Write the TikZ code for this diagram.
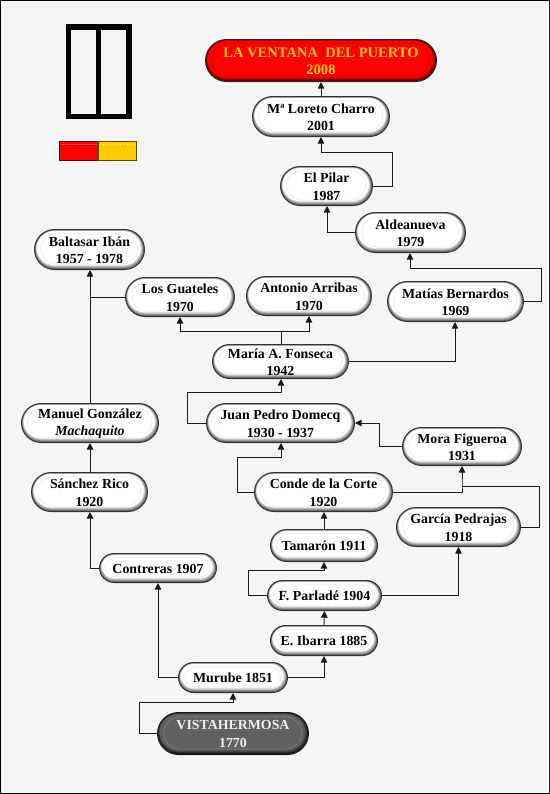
\documentclass[tikz,border=0pt]{standalone}
\usepackage{fontspec}
\setmainfont{Liberation Serif}
\usetikzlibrary{calc,arrows.meta}
\definecolor{pagebg}{HTML}{F5F5F5}
\definecolor{flagred}{HTML}{FF0000}
\definecolor{flaggold}{HTML}{FFCC00}
\colorlet{plainrim}{black!62}
\colorlet{plaintrim}{black!9}
\colorlet{redrim}{red!40!black}
\colorlet{redtrim}{red!75!black}
\colorlet{darkrim}{black!92}
\colorlet{darkbody}{black!62}
\colorlet{darktrim}{black!48}
% rim colour, body colour, trim colour
\newcommand{\pillface}[3]{%
  \foreach \k in {0,...,5}{%
    \pgfmathsetmacro\mixv{\k*20}%
    \pgfmathsetlengthmacro\rr{\pillr-\k*0.35pt}%
    \fill[#2!\mixv!#1,rounded corners=\rr]
      ($(path picture bounding box.south west)+(0.2pt+0.28pt*\k,0.2pt+0.62pt*\k)$) rectangle
      ($(path picture bounding box.north east)+(-0.2pt-0.5pt*\k,-0.1pt-0.22pt*\k)$);}%
  \pgfmathsetlengthmacro\rr{\pillr-3pt}%
  \draw[#3,line width=0.35pt,rounded corners=\rr]
      ($(path picture bounding box.south west)+(4.5pt,4pt)$) rectangle
      ($(path picture bounding box.north east)+(-5pt,-3.2pt)$);}
\tikzset{
  x=0.75pt,y=-0.75pt,
  pillbase/.style={line width=0.75pt, inner sep=0pt},
  plain/.style={pillbase, draw=black!80, path picture={\pillface{plainrim}{white}{plaintrim}}},
  red pill/.style={pillbase, draw=black!85, path picture={\pillface{redrim}{flagred}{redtrim}}},
  dark pill/.style={pillbase, draw=black!90, path picture={\pillface{darkrim}{darkbody}{darktrim}}},
  plain text/.style={align=center, inner sep=0pt, text=black,
    font=\fontsize{10.4pt}{13pt}\selectfont\bfseries},
  red text/.style={plain text, text=flaggold, font=\fontsize{10.9pt}{13pt}\selectfont\bfseries},
  dark text/.style={plain text, text=black!6},
  link/.style={line width=0.7pt, draw=black!90},
  arrow/.style={link, -{Triangle[length=5pt,width=5pt]}},
}
% \pillnode{name}{left}{top}{right}{bottom}{shape style}{text style}{text}
\newcommand{\pillnode}[8]{%
  \pgfmathsetlengthmacro\pillr{(#5-#3)*0.75pt*0.49}%
  \node[#6, minimum width={(#4-#2)*0.75pt-0.75pt}, minimum height={(#5-#3)*0.75pt-0.75pt},
        rounded corners=\pillr] (#1) at ({(#2+#4)/2},{(#3+#5)/2}) {};
  \node[#7] (#1T) at ({(#2+#4)/2},{(#3+#5)/2+0.6}) {#8};}
\begin{document}
\begin{tikzpicture}
\useasboundingbox (0,0) rectangle (550,794);
\fill[pagebg] (0,0) rectangle (550,794);
\fill[black] (0,0) rectangle (550,1.2);
\fill[black] (0,0) rectangle (1.2,794);
\fill[black!85] (548.6,0) rectangle (550,794);
\fill[black] (0,792.6) rectangle (550,794);
% emblem
\draw[black,line width=4.1pt,fill=pagebg] (68.7,27.2) rectangle (129,116.7);
\draw[black,line width=4.1pt] (98.7,27.2) -- (98.7,116.7);
% ribbon
\draw[flagred!35!black,line width=1pt,fill=flagred] (59.7,141.7) rectangle (98,160.5);
\draw[flaggold!35!black,line width=1pt,fill=flaggold] (98,141.7) rectangle (136.8,160.5);
\draw[red!70!white,line width=0.5pt] (61,144.2) -- (96.5,144.2);
\draw[white!60!flaggold,line width=0.5pt,dotted] (100,144) -- (135,144);
% nodes
\pillnode{ventana}{205}{39}{437}{82}{red pill}{red text}{LA VENTANA\ \ DEL PUERTO\\2008}
\pillnode{loreto}{252}{96}{390}{137}{plain}{plain text}{Mª Loreto Charro\\2001}
\pillnode{pilar}{280}{166}{373}{206}{plain}{plain text}{El Pilar\\1987}
\pillnode{aldea}{355}{212}{466}{253}{plain}{plain text}{Aldeanueva\\1979}
\pillnode{matias}{387}{281}{524}{322}{plain}{plain text}{Matías Bernardos\\1969}
\pillnode{arribas}{246}{276}{372}{316}{plain}{plain text}{Antonio Arribas\\1970}
\pillnode{guateles}{125}{277}{235}{317}{plain}{plain text}{Los Guateles\\1970}
\pillnode{baltasar}{34}{229}{145}{270}{plain}{plain text}{Baltasar Ibán\\1957 - 1978}
\pillnode{fonseca}{212}{344}{349}{379}{plain}{plain text}{María A. Fonseca\\1942}
\pillnode{domecq}{206}{403}{355}{443}{plain}{plain text}{Juan Pedro Domecq\\1930 - 1937}
\pillnode{mora}{402}{427}{522}{466}{plain}{plain text}{Mora Figueroa\\1931}
\pillnode{conde}{254}{472}{393}{512}{plain}{plain text}{Conde de la Corte\\1920}
\pillnode{garcia}{396}{507}{521}{547}{plain}{plain text}{García Pedrajas\\1918}
\pillnode{tamaron}{270}{529}{378}{562}{plain}{plain text}{Tamarón 1911}
\pillnode{parlade}{267}{580}{382}{611}{plain}{plain text}{F. Parladé 1904}
\pillnode{ibarra}{270}{625}{378}{656}{plain}{plain text}{E. Ibarra 1885}
\pillnode{murube}{178}{662}{288}{693}{plain}{plain text}{Murube 1851}
\pillnode{vista}{157}{712}{309}{755}{dark pill}{dark text}{VISTAHERMOSA\\1770}
\pillnode{contreras}{99}{553}{217}{583}{plain}{plain text}{Contreras 1907}
\pillnode{sanchez}{31}{472}{148}{512}{plain}{plain text}{Sánchez Rico\\1920}
\pillnode{manuel}{21}{403}{159}{443}{plain}{plain text}{Manuel González\\\textit{Machaquito}}
% connectors
\coordinate (j1) at (233,702);
\coordinate (j2) at (324,570);
\coordinate (j3) at (281,457);
\coordinate (j4) at (462,486);
\coordinate (j5) at (281,392);
\coordinate (j6) at (281,331);
\coordinate (j7) at (90,297);
\coordinate (j8) at (410,268);
\coordinate (j9) at (321,152);
\coordinate (j10) at (455,322);
\coordinate (j11) at (327,206);
\draw[arrow] (vista.west) -- ++(-18,0) |- (j1) -- (murube.south);
\draw[arrow] (murube.west) -| (contreras.south);
\draw[arrow] (murube.east) -| (ibarra.south);
\draw[arrow] (ibarra.north) -- (parlade.south);
\draw[arrow] (parlade.west) -- ++(-19,0) |- (j2) -- (tamaron.south);
\draw[arrow] (parlade.east) -| (garcia.south);
\draw[arrow] (tamaron.north) -- (conde.south-|tamaron.north);
\draw[arrow] (conde.west) -- ++(-17,0) |- (j3) -- (j3|-domecq.south);
\draw[arrow] (conde.east) -| (j4) -- (j4|-mora.south);
\draw[link] (garcia.east) -- ++(18,0) |- (j4);
\draw[arrow] (mora.west) -- ++(-23,0) |- (domecq.east);
\draw[arrow] (domecq.west) -- ++(-19,0) |- (j5) -- (j5|-fonseca.south);
\draw[arrow] (fonseca.east) -| (j10);
\draw[link] (j6|-fonseca.north) -- (j6);
\draw[arrow] (j6) -| (guateles.south);
\draw[arrow] (j6) -| (arribas.south);
\draw[link] (guateles.west) -- (j7);
\draw[arrow] (j7|-manuel.north) -- (j7|-baltasar.south);
\draw[arrow] (contreras.west) -| (j7|-sanchez.south);
\draw[arrow] (j7|-sanchez.north) -- (j7|-manuel.south);
\draw[arrow] (matias.east) -- ++(17,0) |- (j8) -- (j8|-aldea.south);
\draw[arrow] (aldea.west) -| (j11);
\draw[arrow] (pilar.east) -- ++(19,0) |- (j9) -- (j9|-loreto.south);
\draw[arrow] (loreto.north) -- (ventana.south);
\end{tikzpicture}
\end{document}
